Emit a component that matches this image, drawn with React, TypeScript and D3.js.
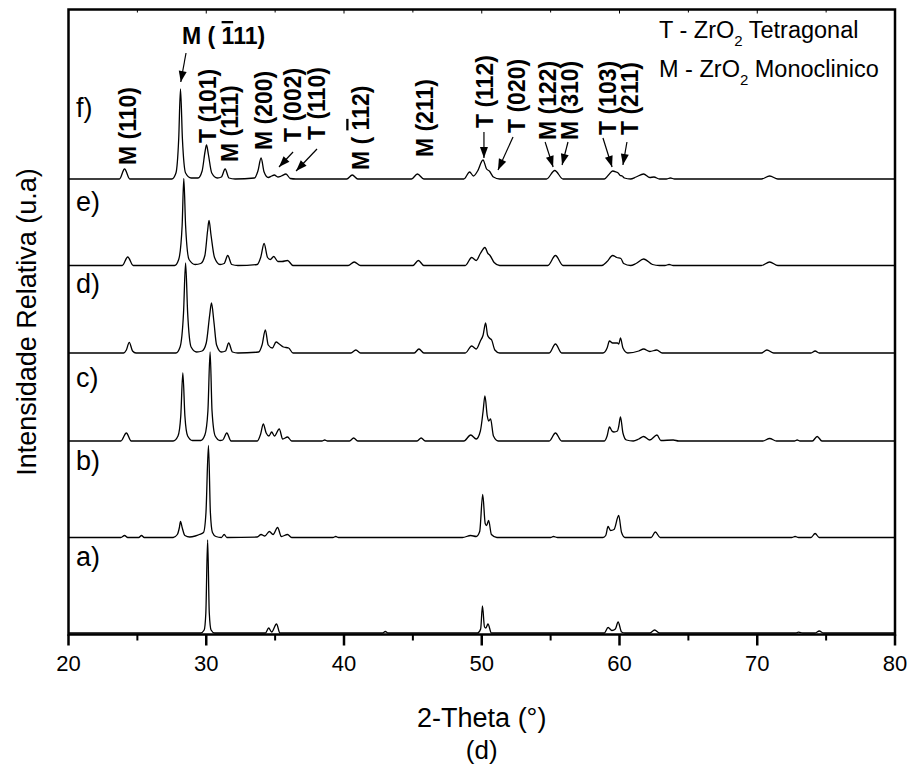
import React from 'react';
import * as d3 from 'd3';

const W = 910;
const H = 772;
const FRAME = { left: 68.5, right: 895, top: 9.5, bottom: 634.5 };
const FONT = '"Liberation Sans", Arial, Helvetica, sans-serif';

// axis
const xDomain = [20, 80];
const xTicks = [20, 30, 40, 50, 60, 70, 80];
const xMinorTicks = [25, 35, 45, 55, 65, 75];
const yDomain = [0, 625];

// samples (bottom to top)
const sampleNames = ['a)', 'b)', 'c)', 'd)', 'e)', 'f)'];
const sampleOffsets = [1.5, 97, 193.5, 281.5, 369, 455.5];
const sampleLabelLevels = [68.5, 164.5, 247.5, 341.5, 423.5, 517.5];

// diffractograms: [2theta, relative intensity]
const seriesA = [
  [20, 0], [29.6, 0], [29.85, 3], [29.97, 20], [30.1, 93], [30.22, 20], [30.35, 3], [30.6, 0],
  [34.3, 0], [34.53, 5], [34.75, 1], [35.1, 9], [35.35, 0],
  [42.8, 0], [43.0, 1.5], [43.2, 0],
  [49.7, 0], [49.92, 4], [50.05, 27], [50.2, 6], [50.3, 5], [50.45, 9], [50.7, 0],
  [58.9, 0], [59.17, 5.5], [59.45, 2.5], [59.7, 4], [59.9, 11], [60.15, 1], [60.4, 0],
  [62.2, 0], [62.55, 3], [62.9, 0],
  [72.8, 0], [73.0, 0.8], [73.3, 0], [74.2, 0], [74.5, 2], [74.8, 0], [80, 0],
];
const seriesB = [
  [20, 0], [23.8, 0], [24.07, 2], [24.3, 0], [25.1, 0], [25.3, 2], [25.5, 0],
  [27.6, 0], [27.9, 3], [28.05, 10], [28.13, 16], [28.25, 10], [28.45, 2], [28.8, 0.5],
  [29.2, 1.5], [29.5, 3], [29.8, 5], [29.98, 25], [30.16, 92], [30.3, 25], [30.45, 5], [30.7, 1],
  [31.1, 0], [31.3, 3], [31.5, 0],
  [33.7, 0.5], [33.98, 3], [34.25, 1.5], [34.58, 6], [34.85, 3], [35.18, 10], [35.45, 1], [35.9, 3], [36.2, 0],
  [39.2, 0], [39.4, 1], [39.6, 0],
  [48.6, 0], [49.2, 2], [49.6, 1], [49.85, 6], [50.07, 43], [50.25, 14], [50.35, 12], [50.5, 17], [50.7, 3], [51.1, 0],
  [55.0, 0], [55.2, 1], [55.5, 0],
  [58.8, 0], [59.0, 2], [59.17, 11], [59.35, 7], [59.6, 8], [59.94, 22], [60.15, 5], [60.4, 0],
  [62.3, 0], [62.6, 5.5], [62.95, 0],
  [72.5, 0], [72.75, 1], [73.0, 0], [73.9, 0], [74.2, 4], [74.5, 0], [80, 0],
];
const seriesC = [
  [20, 0], [23.8, 0], [24.2, 8], [24.55, 0],
  [27.6, 0], [27.95, 5], [28.15, 25], [28.3, 68], [28.45, 25], [28.65, 5], [29.0, 0.5],
  [29.6, 0.5], [29.9, 6], [30.12, 30], [30.28, 89], [30.42, 30], [30.65, 5], [31.0, 0.5],
  [31.2, 1], [31.49, 8], [31.8, 0],
  [33.7, 0], [33.95, 7], [34.14, 17], [34.35, 8], [34.55, 5], [34.75, 9], [34.95, 5], [35.3, 12], [35.55, 2], [35.9, 4], [36.2, 0],
  [38.4, 0], [38.6, 1], [38.8, 0], [40.4, 0], [40.7, 3], [41.0, 0], [45.3, 0], [45.6, 3], [45.9, 0],
  [48.7, 0], [49.2, 6], [49.6, 2], [49.9, 10], [50.1, 30], [50.23, 45], [50.4, 25], [50.5, 20], [50.64, 22], [50.85, 5], [51.2, 0],
  [54.9, 0], [55.35, 8], [55.8, 0],
  [58.9, 0], [59.1, 5], [59.27, 14], [59.45, 10], [59.6, 9], [59.85, 10], [59.95, 15], [60.07, 24], [60.25, 8], [60.5, 1], [61.0, 0],
  [61.4, 2], [61.75, 4.5], [62.2, 1], [62.72, 6], [63.0, 0.5], [63.9, 1], [64.3, 0],
  [70.4, 0], [70.9, 2.5], [71.4, 0], [72.7, 0], [72.9, 1], [73.1, 0], [74.0, 0], [74.35, 4.5], [74.7, 0], [80, 0],
];
const seriesD = [
  [20, 0], [24.0, 0], [24.2, 3], [24.41, 10.7], [24.65, 2], [24.9, 0],
  [27.8, 0], [28.1, 6], [28.35, 40], [28.5, 90], [28.65, 40], [28.9, 6], [29.3, 1],
  [29.7, 2], [30.0, 10], [30.25, 38], [30.38, 50], [30.55, 32], [30.75, 8], [31.1, 1],
  [31.4, 2], [31.63, 10], [31.9, 1], [32.3, 0],
  [33.8, 1], [34.05, 8], [34.29, 23], [34.5, 8], [34.8, 5], [35.07, 11], [35.3, 9], [35.6, 6], [35.98, 5], [36.3, 0],
  [40.5, 0], [40.86, 3], [41.2, 0], [45.1, 0], [45.44, 4], [45.8, 0],
  [48.8, 0], [49.27, 7], [49.6, 4], [49.9, 12], [50.1, 18], [50.28, 30], [50.42, 18], [50.55, 15], [50.72, 13], [50.95, 3], [51.3, 0],
  [54.9, 0], [55.35, 9], [55.8, 0],
  [58.8, 0], [59.1, 5], [59.27, 12], [59.5, 10], [59.85, 10], [59.95, 9], [60.07, 15], [60.25, 5], [60.6, 0],
  [61.4, 2], [61.75, 4], [62.2, 1.5], [62.7, 3], [63.1, 0],
  [70.3, 0], [70.7, 3], [71.2, 0], [73.9, 0], [74.2, 2], [74.5, 0], [80, 0],
];
const seriesE = [
  [20, 0], [23.9, 0], [24.3, 8.5], [24.7, 0],
  [27.7, 0], [28.0, 6], [28.25, 40], [28.37, 87], [28.5, 40], [28.75, 6], [29.2, 1],
  [29.6, 2], [29.9, 10], [30.1, 35], [30.2, 45], [30.35, 30], [30.6, 8], [31.0, 1],
  [31.3, 2], [31.56, 10], [31.85, 1], [32.3, 0],
  [33.7, 1], [33.95, 8], [34.2, 22], [34.45, 8], [34.65, 6], [34.9, 9], [35.2, 4], [35.5, 4], [35.9, 5], [36.3, 0],
  [40.3, 0], [40.74, 3.5], [41.2, 0], [45.0, 0], [45.4, 5], [45.8, 0],
  [48.8, 0], [49.27, 8], [49.6, 5], [49.9, 12], [50.23, 18], [50.45, 12], [50.6, 10], [50.9, 3], [51.3, 0],
  [54.8, 0], [55.35, 10], [55.9, 0],
  [58.7, 0], [59.1, 4], [59.5, 10], [59.8, 8], [60.1, 7], [60.3, 2], [60.8, 0],
  [61.2, 2], [61.75, 6.5], [62.4, 1], [62.9, 0], [63.3, 0], [63.6, 1], [63.9, 0],
  [70.3, 0], [70.9, 3.5], [71.5, 0], [80, 0],
];
const seriesF = [
  [20, 0], [23.7, 0], [24.07, 10], [24.45, 0],
  [27.5, 0], [27.8, 6], [28.0, 40], [28.13, 90], [28.27, 40], [28.5, 6], [28.9, 1],
  [29.4, 1], [29.7, 8], [29.92, 28], [30.02, 34], [30.15, 25], [30.4, 6], [30.8, 1],
  [31.1, 2], [31.37, 10], [31.65, 1], [32.1, 0],
  [33.5, 1], [33.75, 8], [33.98, 21], [34.2, 7], [34.5, 1.5], [34.75, 3], [34.94, 4], [35.2, 2], [35.45, 3], [35.79, 5], [36.1, 0.5], [36.5, 0],
  [40.2, 0], [40.6, 4], [41.0, 0], [44.9, 0], [45.33, 5], [45.8, 0],
  [48.7, 0], [49.12, 7], [49.4, 3], [49.7, 8], [50.09, 19], [50.35, 10], [50.55, 8], [50.85, 2], [51.3, 0],
  [54.7, 0], [55.3, 8.5], [55.9, 0],
  [58.9, 0], [59.2, 4], [59.5, 8], [59.75, 7], [59.9, 6], [60.05, 3.5], [60.2, 3], [60.35, 1], [60.8, 0],
  [61.2, 2], [61.75, 5], [62.2, 1.5], [62.5, 2], [62.9, 0], [63.4, 0], [63.7, 1], [64.0, 0],
  [70.3, 0], [70.9, 3], [71.5, 0], [80, 0],
];
const allSeries = [seriesA, seriesB, seriesC, seriesD, seriesE, seriesF];

// reflection labels: [phase, index, barred first digit?, 2theta centre, level of text start]
const peakLabels = [
  ['M', '110', false, 24.28, 469.5],
  ['T', '101', false, 30.13, 491.5],
  ['M', '111', false, 31.69, 472.5],
  ['M', '200', false, 34.19, 484.5],
  ['T', '002', false, 36.3, 492.5],
  ['T', '110', false, 38.04, 494.5],
  ['M', '112', true, 41.23, 464.5],
  ['M', '211', false, 45.88, 477.5],
  ['T', '112', false, 50.23, 506.5],
  ['T', '020', false, 52.56, 501.5],
  ['M', '122', false, 54.81, 494.5],
  ['M', '310', false, 56.41, 494.5],
  ['T', '103', false, 59.17, 499.5],
  ['T', '211', false, 60.77, 499.5],
];
// arrows: [from 2theta, from level, to 2theta, to level]
const arrows = [
  [28.53, 581.5, 28.15, 552.5],
  [36.3, 482.5, 35.28, 467.5],
  [38.04, 485.5, 36.52, 463.5],
  [50.16, 502.5, 50.16, 476.5],
  [52.27, 497.5, 51.18, 464.5],
  [54.6, 492.5, 55.18, 467.5],
  [56.26, 492.5, 55.83, 469.5],
  [58.8, 496.5, 59.46, 467.5],
  [60.54, 492.5, 60.25, 469.5],
];
const legendLines = [
  ['T - ZrO', '2', ' Tetragonal'],
  ['M - ZrO', '2', ' Monoclinico'],
];

export default function App() {
  const x = d3.scaleLinear().domain(xDomain).range([FRAME.left, FRAME.right]);
  const y = d3.scaleLinear().domain(yDomain).range([FRAME.bottom, FRAME.top]);

  const paths = allSeries.map((s, i) =>
    d3
      .line<number[]>()
      .x((d) => x(d[0]))
      .y((d) => y(d[1] + sampleOffsets[i]))
      .curve(d3.curveMonotoneX)(s)
  );

  const arrowHead = (x1: number, y1: number, x2: number, y2: number) => {
    const ang = Math.atan2(y2 - y1, x2 - x1);
    const len = 11;
    const hw = 4;
    const bx = x2 - len * Math.cos(ang);
    const by = y2 - len * Math.sin(ang);
    const px = -Math.sin(ang) * hw;
    const py = Math.cos(ang) * hw;
    return `M${x2},${y2}L${bx + px},${by + py}L${bx - px},${by - py}Z`;
  };

  return (
    <svg
      width={W}
      height={H}
      style={{ position: 'absolute', left: 0, top: 0, background: '#fff' }}
      fontFamily={FONT}
    >
      <rect x={0} y={0} width={W} height={H} fill="#fff" />
      {/* curves */}
      {paths.map((p, i) => (
        <path key={i} d={p || ''} fill="none" stroke="#000" strokeWidth={1.3} strokeLinejoin="round" />
      ))}
      {/* frame */}
      <rect
        x={FRAME.left}
        y={FRAME.top}
        width={FRAME.right - FRAME.left}
        height={FRAME.bottom - FRAME.top}
        fill="none"
        stroke="#000"
        strokeWidth={2.5}
      />
      {/* bottom ticks */}
      {xTicks.map((t) => (
        <g key={'t' + t}>
          <line x1={x(t)} x2={x(t)} y1={FRAME.bottom} y2={FRAME.bottom + 11} stroke="#000" strokeWidth={2.5} />
          <text x={x(t)} y={FRAME.bottom + 36} textAnchor="middle" fontSize={22}>
            {t}
          </text>
          <line x1={x(t)} x2={x(t)} y1={FRAME.top} y2={FRAME.top + 4} stroke="#000" strokeWidth={1} />
        </g>
      ))}
      {xMinorTicks.map((t) => (
        <g key={'m' + t}>
          <line x1={x(t)} x2={x(t)} y1={FRAME.bottom} y2={FRAME.bottom + 6} stroke="#000" strokeWidth={2} />
          <line x1={x(t)} x2={x(t)} y1={FRAME.top} y2={FRAME.top + 3} stroke="#000" strokeWidth={1} />
        </g>
      ))}
      {/* axis titles */}
      <text x={(FRAME.left + FRAME.right) / 2} y={727} textAnchor="middle" fontSize={27}>
        2-Theta (°)
      </text>
      <text x={(FRAME.left + FRAME.right) / 2} y={759} textAnchor="middle" fontSize={26}>
        (d)
      </text>
      <text
        transform={`translate(36,${(FRAME.top + FRAME.bottom) / 2}) rotate(-90)`}
        textAnchor="middle"
        fontSize={27}
      >
        Intensidade Relativa (u.a)
      </text>
      {/* sample labels */}
      {sampleNames.map((n, i) => (
        <text key={n} x={76} y={y(sampleLabelLevels[i])} fontSize={27}>
          {n}
        </text>
      ))}
      {/* peak labels */}
      {peakLabels.map((l, i) => {
        const [ph, idx, bar, cx, lev] = l as [string, string, boolean, number, number];
        return (
          <text
            key={i}
            transform={`translate(${x(cx)},${y(lev)}) rotate(-90)`}
            dy="0.36em"
            fontSize={23}
            fontWeight="bold"
          >
            {bar ? (
              <>
                {ph + ' ( '}
                <tspan style={{ textDecoration: 'overline' }}>{idx[0]}</tspan>
                {idx.slice(1) + ')'}
              </>
            ) : (
              `${ph} (${idx})`
            )}
          </text>
        );
      })}
      <text x={x(28.24)} y={y(590.5)} fontSize={23} fontWeight="bold">
        {'M ( '}
        <tspan style={{ textDecoration: 'overline' }}>1</tspan>
        {'11)'}
      </text>
      {/* arrows */}
      {arrows.map((a, i) => {
        const x1 = x(a[0]);
        const y1 = y(a[1]);
        const x2 = x(a[2]);
        const y2 = y(a[3]);
        return (
          <g key={i}>
            <line x1={x1} y1={y1} x2={x2} y2={y2} stroke="#000" strokeWidth={1.2} />
            <path d={arrowHead(x1, y1, x2, y2)} fill="#000" />
          </g>
        );
      })}
      {/* legend */}
      {legendLines.map((l, i) => (
        <text key={i} x={659} y={38 + i * 39} fontSize={23.5}>
          {l[0]}
          <tspan dy={8} fontSize={15}>
            {l[1]}
          </tspan>
          <tspan dy={-8}>{l[2]}</tspan>
        </text>
      ))}
    </svg>
  );
}
